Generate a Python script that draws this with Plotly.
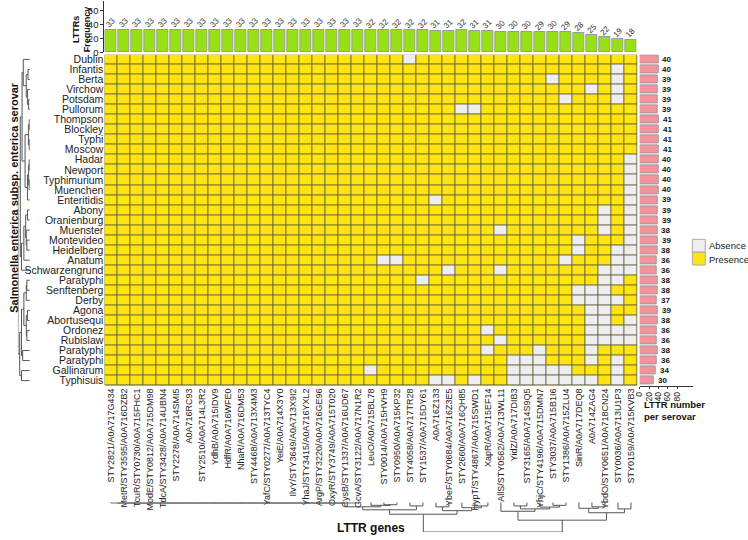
import plotly.graph_objects as go
import numpy as np

W, H = 748, 540
def px(x): return x / W
def py(y): return 1 - y / H

serovars = ["Dublin", "Infantis", "Berta", "Virchow", "Potsdam", "Pullorum", "Thompson",
            "Blockley", "Typhi", "Moscow", "Hadar", "Newport", "Typhimurium", "Muenchen",
            "Enteritidis", "Abony", "Oranienburg", "Muenster", "Montevideo", "Heidelberg",
            "Anatum", "Schwarzengrund", "Paratyphi", "Senftenberg", "Derby", "Agona",
            "Abortusequi", "Ordonez", "Rubislaw", "Paratyphi", "Paratyphi", "Gallinarum",
            "Typhisuis"]

genes = ["STY2821/A0A717G434", "MetR/STY3595/A0A716DZB2", "TcuR/STY0730/A0A715FHC1",
         "ModE/STY0812/A0A715DM98", "TdcA/STY3428/A0A714UBN4", "STY2278/A0A714SMI5",
         "A0A716RC93", "STY2510/A0A714L3R2", "YdhB/A0A715IDV9", "HdfR/A0A716WFE0",
         "NhaR/A0A716DM53", "STY4468/A0A713X4M3", "YafC/STY0277/A0A713TYC4",
         "YeiE/A0A714X3Y0", "IlvY/STY3649/A0A713X9I2", "YhaJ/STY3415/A0A716YXL2",
         "ArgP/STY3220/A0A716GE96", "OxyR/STY3749/A0A715T020", "CysB/STY1337/A0A716UD67",
         "GcvA/STY3122/A0A717N1R2", "LeuO/A0A715BL78", "STY0014/A0A715HVH9",
         "STY0950/A0A715KP32", "STY4058/A0A717TR28", "STY1537/A0A715DY61", "A0A716Z133",
         "YbeF/STY0684/A0A716Z3E5", "STY2660/A0A716QH85", "HypT/STY4867/A0A715SWD1",
         "XapR/A0A715EF14", "AllS/STY0562/A0A713WL11", "YidZ/A0A717DIB3",
         "STY3165/A0A714S9Q5", "YhjC/STY4196/A0A715DMN7", "STY3037/A0A715B1I6",
         "STY1386/A0A715ZLU4", "SinR/A0A717DEQ8", "A0A714ZAG4", "YbdO/STY0651/A0A718CN24",
         "STY0036/A0A713U1P3", "STY0159/A0A715KVB3"]

# frequency of each LTTR gene (top bars)
gene_counts = [33] * 20 + [32, 32, 32, 32, 32, 31, 31, 32, 31, 31, 30, 30, 30, 29, 30,
                           29, 28, 25, 22, 19, 18]
# LTTR number per serovar (right bars)
serovar_counts = [40, 40, 39, 39, 39, 39, 41, 41, 41, 41, 40, 40, 40, 40, 39, 39, 39, 38,
                  39, 38, 36, 36, 38, 38, 37, 39, 38, 36, 36, 38, 36, 34, 30]

# absent genes (column indices) per serovar row
absent_cols = [
    [23], [39], [34, 39], [37, 39], [35, 39], [27, 28], [], [], [], [],
    [40], [40], [40], [40], [25, 40], [38, 40], [38, 40], [30, 38, 40], [36, 40],
    [36, 39, 40], [21, 22, 35, 39, 40], [26, 30, 38, 39, 40], [24, 38, 39],
    [36, 37, 38], [36, 37, 38, 39], [37, 38], [37, 38, 40], [29, 37, 38, 39, 40],
    [30, 37, 38, 39, 40], [29, 33, 37], [31, 32, 33, 37, 39],
    [20, 31, 32, 33, 34, 35, 39],
    [25, 26, 28, 31, 32, 33, 34, 35, 36, 37, 39],
]

# dendrogram structures: (height, left, right) or leaf index
row_A = (5.5, 0, (3, (1.5, 1, 2), (2, 3, (1, 4, 5))))
row_B = (4, (1.2, (0.5, 6, 7), (0.5, 8, 9)), (2, (1, (0.5, 10, 11), (0.5, 12, 13)), 14))
row_C = (5, (3.5, (2, 15, 16), (3, 17, (2.5, 18, 19))), 20)
row_D = (5, (3, (2.5, 22, 23), 24), (3, (2, 25, 26), (2.5, 27, 28)))
row_tree = (10, (8, (6.5, row_A, row_B), (7, row_C, 21)),
            (8.5, (7, row_D, (6, 29, 30)), (7, 31, 32)))

identical_cols = list(range(20))
g0 = identical_cols[0]
for c in identical_cols[1:]:
    g0 = (0.2, g0, c)
col_L = (4, (2.5, (1.5, g0, (1, 20, (0.8, 21, 22))), (1.2, 23, 24)),
         (2.8, (1.5, 25, 26), (1.8, 27, (1.2, 28, 29))))
col_R = (6, (3, 30, (2.2, (1.2, 31, 32), (1.6, 33, (1, 34, 35)))),
         (3.5, (2, 36, (1.5, 37, 38)), (2.2, 39, 40)))
col_tree = (10, col_L, col_R)


def dendro(node, pos_list, h_list):
    if isinstance(node, int):
        return float(node), 0.0
    h, a, b = node
    pa, ha = dendro(a, pos_list, h_list)
    pb, hb = dendro(b, pos_list, h_list)
    pos_list += [pa, pa, pb, pb, None]
    h_list += [ha, h, h, hb, None]
    return (pa + pb) / 2, h


ABS = "#EEEEF0"
PRES = "#FFE414"
GREEN = "#97E016"
PINK = "#F4939C"
FONT = "Liberation Sans, Arial, sans-serif"

z = np.ones((len(serovars), len(genes)))
for r, cols in enumerate(absent_cols):
    for c in cols:
        z[r, c] = 0

fig = go.Figure()
fig.add_trace(go.Heatmap(z=z, x=list(range(len(genes))), y=list(range(len(serovars))),
                         colorscale=[[0, ABS], [0.5, ABS], [0.5, PRES], [1, PRES]],
                         zmin=0, zmax=1, showscale=False, xgap=1, ygap=1,
                         xaxis="x", yaxis="y", hoverinfo="skip"))

fig.add_trace(go.Bar(x=list(range(len(genes))), y=gene_counts, xaxis="x2", yaxis="y2",
                     width=0.84, marker=dict(color=GREEN, line=dict(color="#9a9a9a", width=1)),
                     hoverinfo="skip"))

fig.add_trace(go.Bar(x=serovar_counts, y=list(range(len(serovars))), orientation="h",
                     xaxis="x3", yaxis="y3", width=0.8,
                     marker=dict(color=PINK, line=dict(color="#9a9a9a", width=1)),
                     hoverinfo="skip"))

rp, rh = [], []
dendro(row_tree, rp, rh)
fig.add_trace(go.Scatter(x=rh, y=rp, mode="lines", xaxis="x4", yaxis="y4",
                         line=dict(color="#555", width=1), hoverinfo="skip"))
cp, ch = [], []
dendro(col_tree, cp, ch)
fig.add_trace(go.Scatter(x=cp, y=ch, mode="lines", xaxis="x5", yaxis="y5",
                         line=dict(color="#555", width=1), hoverinfo="skip"))

hx = [px(100), px(636.7)]
hy = [py(389), py(54)]
nr, nc = len(serovars), len(genes)

annotations = []
for i, v in enumerate(gene_counts):
    annotations.append(dict(x=i, y=v, xref="x2", yref="y2", text=str(v), showarrow=False,
                            textangle=-45, yshift=7, xanchor="center", yanchor="middle",
                            font=dict(size=8, color="#333", family=FONT)))
for i, v in enumerate(serovar_counts):
    annotations.append(dict(x=v, y=i, xref="x3", yref="y3", text="<b>%d</b>" % v, showarrow=False,
                            xanchor="left", yanchor="middle", xshift=2,
                            font=dict(size=8, color="#111", family=FONT)))

annotations += [
    dict(x=px(77), y=py(28), xref="paper", yref="paper", text="<b>LTTRs<br>Frequency</b>",
         showarrow=False, textangle=-90, xanchor="center", yanchor="middle",
         font=dict(size=9, color="#111", family=FONT)),
    dict(x=px(9), y=py(198), xref="paper", yref="paper",
         text="<b>Salmonella enterica subsp. enterica serovar</b>",
         showarrow=False, textangle=-90, xanchor="center", yanchor="middle",
         font=dict(size=11, color="#111", family=FONT)),
    dict(x=px(368), y=py(533), xref="paper", yref="paper", text="<b>LTTR genes</b>",
         showarrow=False, xanchor="center", yanchor="middle",
         font=dict(size=12, color="#111", family=FONT)),
    dict(x=px(641), y=py(414), xref="paper", yref="paper", text="<b>LTTR number<br>per serovar</b>",
         showarrow=False, xanchor="left", yanchor="middle", align="left",
         font=dict(size=9.5, color="#111", family=FONT)),
    dict(x=px(707), y=py(247), xref="paper", yref="paper", text="Absence", showarrow=False,
         xanchor="left", yanchor="middle", font=dict(size=9.5, color="#222", family=FONT)),
    dict(x=px(707), y=py(261), xref="paper", yref="paper", text="Presence", showarrow=False,
         xanchor="left", yanchor="middle", font=dict(size=9.5, color="#222", family=FONT)),
]

shapes = [
    dict(type="rect", xref="x", yref="y", x0=-0.5, x1=nc - 0.5, y0=-0.5, y1=nr - 0.5,
         fillcolor="#625e38", line=dict(width=0), layer="below"),
    dict(type="rect", xref="paper", yref="paper", x0=px(692), x1=px(705), y0=py(254), y1=py(241),
         fillcolor=ABS, line=dict(color="#aaa", width=1)),
    dict(type="rect", xref="paper", yref="paper", x0=px(692), x1=px(705), y0=py(267), y1=py(254),
         fillcolor=PRES, line=dict(color="#aaa", width=1)),
]

hidden = dict(visible=False, showgrid=False, zeroline=False)
fig.update_layout(
    width=W, height=H, margin=dict(l=0, r=0, t=0, b=0),
    paper_bgcolor="white", plot_bgcolor="white", showlegend=False,
    font=dict(family=FONT, color="#222"), bargap=0,
    xaxis=dict(domain=hx, range=[-0.5, nc - 0.5], anchor="y", tickmode="array",
               tickvals=list(range(nc)), ticktext=genes, tickangle=-90, ticks="",
               tickfont=dict(size=9, color="#222"), showgrid=False, zeroline=False,
               showline=False),
    yaxis=dict(domain=hy, range=[nr - 0.5, -0.5], anchor="x", tickmode="array",
               tickvals=list(range(nr)), ticktext=serovars, ticks="",
               tickfont=dict(size=10.5, color="#222"), showgrid=False, zeroline=False,
               showline=False),
    xaxis2=dict(domain=hx, range=[-0.5, nc - 0.5], anchor="y2", matches="x",
                showticklabels=False, showgrid=False, zeroline=False, showline=False, ticks=""),
    yaxis2=dict(domain=[py(52), py(0)], range=[0, 74.3], anchor="x2", tickvals=[0, 20, 40, 60],
                ticks="outside", ticklen=3, tickcolor="#333", showline=True, linecolor="#333",
                linewidth=1, showgrid=False, zeroline=False,
                tickfont=dict(size=9.5, color="#222")),
    xaxis3=dict(domain=[px(639), px(693)], range=[0, 54 / 0.47], anchor="y3",
                tickvals=[0, 20, 40, 60, 80], tickangle=-90, ticks="outside", ticklen=2,
                tickcolor="#333", showline=True, linecolor="#333", linewidth=1,
                showgrid=False, zeroline=False, tickfont=dict(size=8.5, color="#222")),
    yaxis3=dict(domain=hy, range=[nr - 0.5, -0.5], anchor="x3", **hidden),
    xaxis4=dict(domain=[px(13), px(25)], range=[10, 0], anchor="y4", **hidden),
    yaxis4=dict(domain=hy, range=[nr - 0.5, -0.5], anchor="x4", **hidden),
    xaxis5=dict(domain=hx, range=[-0.5, nc - 0.5], anchor="y5", **hidden),
    yaxis5=dict(domain=[py(537), py(507)], range=[10, 0], anchor="x5", **hidden),
    annotations=annotations, shapes=shapes,
)

fig.write_html("out.html")
